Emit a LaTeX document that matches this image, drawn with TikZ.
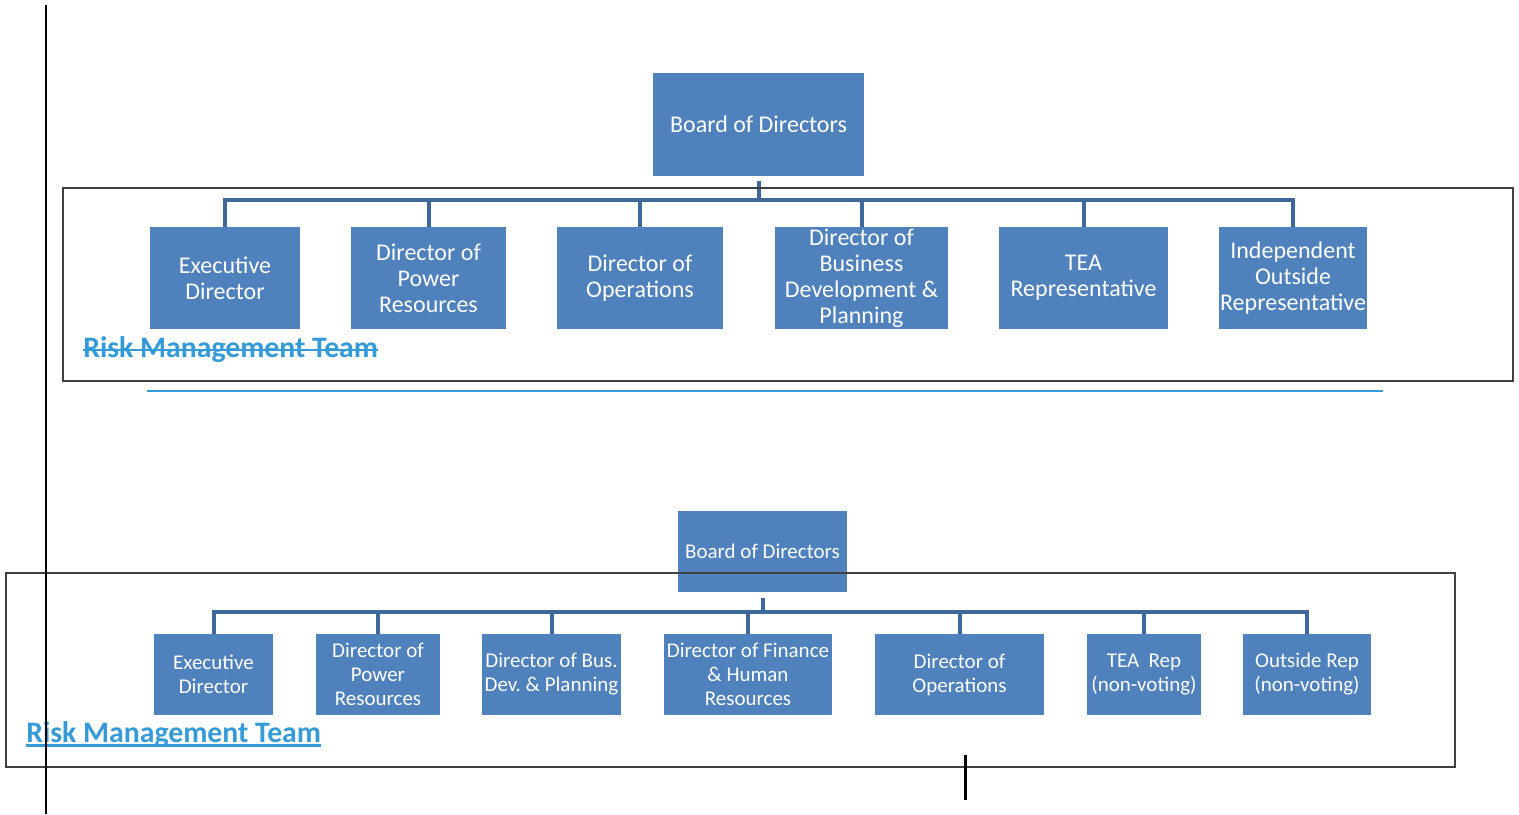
\documentclass[tikz,border=0pt]{standalone}
\usepackage{fontspec}
\setmainfont{Carlito}
\newdimen\px \px=0.75pt
\definecolor{boxblue}{HTML}{4F81BD}
\definecolor{linkblue}{HTML}{3D6899}
\definecolor{rmtblue}{HTML}{359BD8}
\tikzset{
    orgbox/.style={fill=boxblue, text=white, inner sep=0pt, align=center},
    bigbox/.style={orgbox, font=\fontsize{18pt}{19.5pt}\selectfont, minimum height=102\px},
    smallbox/.style={orgbox, font=\fontsize{15.75pt}{18pt}\selectfont, minimum height=81\px},
    link/.style={draw=linkblue, line width=4\px},
    teambox/.style={draw=black!75, line width=1.5\px},
    rmt/.style={text=rmtblue, font=\bfseries\fontsize{22.3pt}{26pt}\selectfont, inner sep=0pt, anchor=base west},
    rmtline/.style={draw=rmtblue, line width=2\px}
}
\begin{document}
\begin{tikzpicture}[x=0.75pt, y=-0.75pt]
    \useasboundingbox (0,0) rectangle (1519,814);

    % first chart
    \node [bigbox, minimum width=211\px, minimum height=103\px] (board1) at (758.5,124.5) {Board of Directors};
    \node [bigbox, minimum width=150\px] (exec1) at (225,278) {Executive\\Director};
    \node [bigbox, minimum width=155\px] (pow1) at (428.5,278) {Director of\\Power\\Resources};
    \node [bigbox, minimum width=166\px] (ops1) at (640,278) {Director of\\Operations};
    \node [bigbox, minimum width=173\px] (bdp1) at (861.5,278) {Director of\\Business\\Development \&\\Planning};
    \node [bigbox, minimum width=169\px] (tea1) at (1083.5,278) {TEA\\Representative};
    \node [bigbox, minimum width=148\px] (ior1) at (1293,278) {Independent\\Outside\\Representative};

    \coordinate (fork1) at (758.5,200);
    \draw [link] ([yshift=-5\px]board1.south) -- (fork1);
    \foreach \c in {exec1,pow1,ops1,bdp1,tea1,ior1}
        \draw [link] (fork1) -| (\c.north);

    \node [rmt] (rmt1) at (83,357) {Risk Management Team};
    \draw [rmtline] ([yshift=7\px]rmt1.base west) -- ([yshift=7\px]rmt1.base east);
    \draw [teambox] (63,188) rectangle (1513,381);
    \draw [rmtline] (147,391) -- (1383,391);

    % second chart
    \node [smallbox, minimum width=169\px] (board2) at (762.5,551.5) {Board of Directors};
    \node [smallbox, minimum width=119\px] (exec2) at (213.5,674.5) {Executive\\Director};
    \node [smallbox, minimum width=124\px] (pow2) at (378,674.5) {Director of\\Power\\Resources};
    \node [smallbox, minimum width=139\px] (bdp2) at (551.5,674.5) {Director of Bus.\\Dev.\ \& Planning};
    \node [smallbox, minimum width=168\px] (fin2) at (748,674.5) {Director of Finance\\\& Human\\Resources};
    \node [smallbox, minimum width=169\px] (ops2) at (959.5,674.5) {Director of\\Operations};
    \node [smallbox, minimum width=114\px] (tea2) at (1144,674.5) {TEA~ Rep\\(non-voting)};
    \node [smallbox, minimum width=128\px] (out2) at (1307,674.5) {Outside Rep\\(non-voting)};

    \coordinate (fork2) at (762.5,612);
    \draw [link] ([yshift=-6\px]board2.south) -- (fork2);
    \foreach \c in {exec2,pow2,bdp2,fin2,ops2,tea2,out2}
        \draw [link] (fork2) -| (\c.north);

    \node [rmt] (rmt2) at (26,742) {Risk Management Team};
    \draw [rmtline, line width=3\px] ([yshift=-3\px]rmt2.base west) -- ([yshift=-3\px]rmt2.base east);
    \draw [teambox] (6,573) rectangle (1455,767);

    % page marks
    \draw [line width=2\px] (46,5) -- (46,814);
    \draw [line width=3\px] (965,755) -- (965,800);
\end{tikzpicture}
\end{document}
